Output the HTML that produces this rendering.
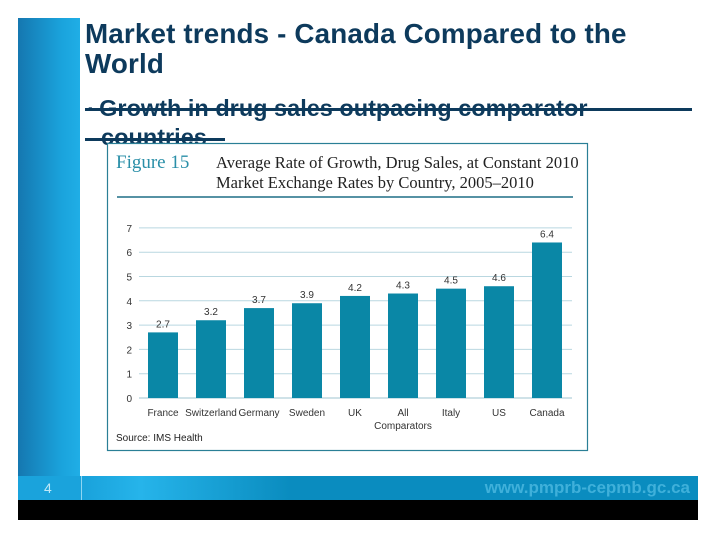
<!DOCTYPE html>
<html><head><meta charset="utf-8"><style>
body{margin:0;background:#fff;width:720px;height:540px;position:relative;overflow:hidden;font-family:"Liberation Sans",sans-serif}
.abs{position:absolute}
</style></head><body>
<div class="abs" style="left:18px;top:18px;width:62px;height:458px;background:linear-gradient(90deg,#1577b0,#1aa3dc 70%,#20aee6)"></div>
<div class="abs" style="left:18px;top:476px;width:680px;height:24px;background:linear-gradient(90deg,#1aa3dc 0%,#1aa3dc 10%,#26b4ea 18%,#0a8cbf 40%,#0a8cbf 100%)"></div>
<div class="abs" style="left:81px;top:476px;width:1px;height:24px;background:#8fd6f2"></div>
<div class="abs" style="left:18px;top:500px;width:680px;height:20px;background:#000"></div>
<div class="abs" style="left:44px;top:480px;font-size:14px;color:#bfe8f7">4</div>
<div class="abs" style="right:30px;top:478px;font-size:17px;font-weight:bold;color:#3fb0da">www.pmprb-cepmb.gc.ca</div>
<div class="abs" style="left:85px;top:19px;font-size:27.8px;font-weight:bold;color:#0d3a5c;line-height:30px;white-space:nowrap;letter-spacing:0.15px">Market trends - Canada Compared to the<br>World</div>
<div class="abs" style="left:88px;top:94px;font-size:23.5px;font-weight:bold;color:#0d3a5c;line-height:29px;white-space:nowrap"><span style="font-size:13px;vertical-align:3px">▪</span> Growth in drug sales outpacing comparator<br>&nbsp;&nbsp;countries</div>
<div class="abs" style="left:85px;top:108px;width:607px;height:3px;background:#0d3a5c"></div>
<div class="abs" style="left:85px;top:138px;width:140px;height:3px;background:#0d3a5c"></div>
<svg class="abs" style="left:0;top:0" width="720" height="540" id="chart">
<rect x="107.5" y="143.5" width="480" height="307" fill="#fff" stroke="#2a7f96" stroke-width="1.2"/>
<text x="116" y="168" font-family="Liberation Serif,serif" font-size="19" fill="#2a8fa8">Figure 15</text>
<text x="216" y="168" font-family="Liberation Serif,serif" font-size="16.5" fill="#222">Average Rate of Growth, Drug Sales, at Constant 2010</text>
<text x="216" y="188" font-family="Liberation Serif,serif" font-size="16.5" fill="#222">Market Exchange Rates by Country, 2005–2010</text>
<line x1="117" x2="573" y1="197" y2="197" stroke="#1f6f86" stroke-width="1.5"/>
<g id="plot"></g>
<text x="116" y="441" font-size="10" fill="#222">Source: IMS Health</text>
</svg>
<script>
const categories=["France","Switzerland","Germany","Sweden","UK","All|Comparators","Italy","US","Canada"];
const values=[2.7,3.2,3.7,3.9,4.2,4.3,4.5,4.6,6.4];
const valueLabels=["2.7","3.2","3.7","3.9","4.2","4.3","4.5","4.6","6.4"];
const yTicks=[0,1,2,3,4,5,6,7];
const NS="http://www.w3.org/2000/svg";
const g=document.getElementById('plot');
const y=v=>398-v*24.3;
const x=i=>163+i*48;
function mk(t,a){const e=document.createElementNS(NS,t);for(const k in a)e.setAttribute(k,a[k]);g.appendChild(e);return e;}
yTicks.forEach(t=>{
 const l=mk('line',{x1:139,x2:572,y1:y(t),y2:y(t),stroke:t===0?'#9fc6d2':'#b9d7e0','stroke-width':1});
 
 
 const tx=mk('text',{x:132,y:y(t)+4,'text-anchor':'end','font-size':10,fill:'#333'});tx.textContent=t;
 
 
});
values.forEach((v,i)=>{
 const r=mk('rect',{x:x(i)-15,y:y(v),width:30,height:y(0)-y(v),fill:'#0a87a6'});
 
 
 const vl=mk('text',{x:x(i),y:y(v)-5,'text-anchor':'middle','font-size':10,fill:'#333'});vl.textContent=valueLabels[i];
 
 
 categories[i].split('|').forEach((p,j)=>{
  const c=mk('text',{x:x(i),y:416+j*13,'text-anchor':'middle','font-size':10,fill:'#333'});c.textContent=p;
  
  
 });
});
</script>
</body></html>
